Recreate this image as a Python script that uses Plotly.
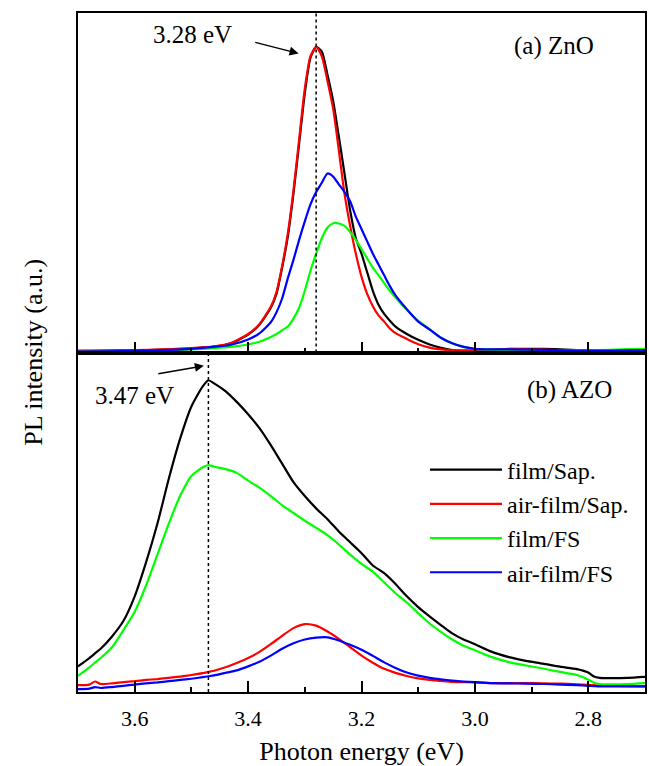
import plotly.graph_objects as go
from plotly.subplots import make_subplots

# ---------------- data (a) ZnO ----------------
energy_a = [3.70, 3.65, 3.60, 3.55, 3.50, 3.46, 3.43, 3.40, 3.38, 3.36, 3.35, 3.34, 3.33, 3.32,
            3.31, 3.30, 3.29, 3.28, 3.27, 3.26, 3.25, 3.24, 3.23, 3.22, 3.21, 3.20, 3.19, 3.18,
            3.17, 3.16, 3.15, 3.14, 3.12, 3.10, 3.08, 3.06, 3.04, 3.02, 3.00, 2.97, 2.94, 2.90,
            2.86, 2.82, 2.78, 2.74, 2.70]
zno_film_sap = [0.004, 0.005, 0.006, 0.009, 0.013, 0.019, 0.030, 0.058, 0.090, 0.145, 0.190, 0.275,
                0.375, 0.515, 0.677, 0.840, 0.955, 0.990, 0.975, 0.900, 0.815, 0.700, 0.580, 0.460,
                0.370, 0.320, 0.260, 0.200, 0.155, 0.125, 0.103, 0.084, 0.060, 0.041, 0.026, 0.015,
                0.008, 0.006, 0.006, 0.008, 0.012, 0.012, 0.011, 0.008, 0.007, 0.008, 0.010]
zno_air_sap = [0.006, 0.007, 0.008, 0.010, 0.014, 0.020, 0.031, 0.060, 0.092, 0.148, 0.195, 0.280,
               0.385, 0.525, 0.690, 0.855, 0.960, 0.990, 0.960, 0.880, 0.790, 0.655, 0.515, 0.410,
               0.320, 0.246, 0.190, 0.150, 0.120, 0.100, 0.078, 0.063, 0.044, 0.027, 0.016, 0.010,
               0.007, 0.006, 0.007, 0.010, 0.011, 0.010, 0.008, 0.007, 0.007, 0.008, 0.009]
zno_film_fs = [0.002, 0.003, 0.004, 0.006, 0.010, 0.014, 0.018, 0.026, 0.035, 0.050, 0.060, 0.072,
               0.084, 0.110, 0.145, 0.200, 0.265, 0.320, 0.370, 0.405, 0.419, 0.418, 0.410, 0.390,
               0.365, 0.335, 0.305, 0.275, 0.250, 0.225, 0.200, 0.178, 0.138, 0.103, 0.075, 0.048,
               0.030, 0.018, 0.012, 0.009, 0.008, 0.008, 0.007, 0.007, 0.008, 0.010, 0.012]
zno_air_fs = [0.003, 0.004, 0.005, 0.008, 0.012, 0.018, 0.025, 0.042, 0.062, 0.098, 0.130, 0.175,
              0.240, 0.300, 0.365, 0.425, 0.480, 0.520, 0.550, 0.580, 0.570, 0.545, 0.520, 0.490,
              0.440, 0.400, 0.360, 0.320, 0.285, 0.250, 0.215, 0.185, 0.140, 0.100, 0.075, 0.048,
              0.030, 0.018, 0.012, 0.010, 0.010, 0.009, 0.008, 0.006, 0.006, 0.007, 0.008]

# ---------------- data (b) AZO ----------------
energy_b = [3.70, 3.68, 3.67, 3.66, 3.64, 3.62, 3.60, 3.58, 3.56, 3.54, 3.52, 3.50, 3.48, 3.47,
            3.46, 3.44, 3.42, 3.40, 3.38, 3.36, 3.34, 3.32, 3.30, 3.28, 3.26, 3.24, 3.22, 3.20,
            3.18, 3.16, 3.14, 3.12, 3.10, 3.08, 3.06, 3.04, 3.02, 3.00, 2.97, 2.94, 2.91, 2.88,
            2.85, 2.82, 2.80, 2.79, 2.78, 2.76, 2.73, 2.70]
azo_film_sap = [0.083, 0.110, 0.125, 0.140, 0.180, 0.230, 0.310, 0.420, 0.545, 0.690, 0.820, 0.925,
                0.990, 1.010, 1.000, 0.975, 0.940, 0.900, 0.855, 0.800, 0.740, 0.680, 0.635, 0.595,
                0.560, 0.520, 0.485, 0.450, 0.410, 0.385, 0.350, 0.310, 0.275, 0.245, 0.217, 0.190,
                0.170, 0.155, 0.130, 0.113, 0.101, 0.092, 0.082, 0.074, 0.063, 0.050, 0.046, 0.045,
                0.046, 0.049]
azo_air_sap = [0.022, 0.024, 0.034, 0.026, 0.028, 0.032, 0.035, 0.039, 0.042, 0.046, 0.050, 0.055,
               0.061, 0.065, 0.069, 0.080, 0.094, 0.110, 0.130, 0.155, 0.182, 0.207, 0.220, 0.215,
               0.196, 0.172, 0.145, 0.118, 0.095, 0.075, 0.062, 0.052, 0.044, 0.039, 0.036, 0.033,
               0.032, 0.031, 0.029, 0.029, 0.029, 0.028, 0.027, 0.025, 0.023, 0.022, 0.021, 0.020,
               0.019, 0.018]
azo_film_fs = [0.052, 0.080, 0.095, 0.110, 0.145, 0.200, 0.260, 0.345, 0.445, 0.545, 0.635, 0.700,
               0.728, 0.735, 0.730, 0.722, 0.710, 0.685, 0.662, 0.635, 0.605, 0.580, 0.555, 0.532,
               0.508, 0.478, 0.445, 0.415, 0.390, 0.355, 0.320, 0.290, 0.255, 0.222, 0.195, 0.170,
               0.150, 0.135, 0.113, 0.097, 0.086, 0.076, 0.065, 0.055, 0.040, 0.030, 0.026, 0.025,
               0.026, 0.029]
azo_air_fs = [0.009, 0.011, 0.016, 0.013, 0.016, 0.020, 0.024, 0.028, 0.031, 0.035, 0.039, 0.043,
              0.048, 0.051, 0.054, 0.062, 0.070, 0.083, 0.098, 0.118, 0.140, 0.158, 0.170, 0.176,
              0.177, 0.167, 0.153, 0.137, 0.117, 0.096, 0.078, 0.063, 0.053, 0.046, 0.041, 0.037,
              0.034, 0.032, 0.029, 0.028, 0.027, 0.026, 0.024, 0.022, 0.020, 0.019, 0.018, 0.018,
              0.018, 0.018]

series_names = ["film/Sap.", "air-film/Sap.", "film/FS", "air-film/FS"]
series_colors = ["#000000", "#ff0000", "#00ff00", "#0000ff"]
panel_a = [zno_film_sap, zno_air_sap, zno_film_fs, zno_air_fs]
panel_b = [azo_film_sap, azo_air_sap, azo_film_fs, azo_air_fs]

peak_a = 3.28
peak_b = 3.47
x_ticks = [3.6, 3.4, 3.2, 3.0, 2.8]
x_tick_text = ["3.6", "3.4", "3.2", "3.0", "2.8"]

FONT = "Liberation Serif, Times New Roman, serif"

fig = make_subplots(rows=2, cols=1, shared_xaxes=True, vertical_spacing=0)

for i, (name, col) in enumerate(zip(series_names, series_colors)):
    fig.add_trace(go.Scatter(x=energy_a, y=panel_a[i], mode="lines", name=name,
                             line=dict(color=col, width=2.2, shape="spline", smoothing=0.6),
                             showlegend=False), row=1, col=1)
for i, (name, col) in enumerate(zip(series_names, series_colors)):
    fig.add_trace(go.Scatter(x=energy_b, y=panel_b[i], mode="lines", name=name,
                             line=dict(color=col, width=2.2, shape="spline", smoothing=0.6),
                             showlegend=True), row=2, col=1)

axis_common = dict(range=[3.7, 2.7], tickmode="array", tickvals=x_ticks, ticktext=x_tick_text,
                   ticks="inside", ticklen=11, tickwidth=1.5, tickcolor="black",
                   minor=dict(ticks="inside", ticklen=5, tickwidth=1.5, dtick=0.1, tick0=2.7,
                              tickcolor="black"),
                   showline=True, linewidth=2, linecolor="black", mirror=True,
                   showgrid=False, zeroline=False)
fig.update_xaxes(**axis_common, showticklabels=False, row=1, col=1)
fig.update_xaxes(**axis_common, showticklabels=True, row=2, col=1,
                 tickfont=dict(family=FONT, size=22, color="black"),
                 ticklabelstandoff=6,
                 title=dict(text="Photon energy (eV)", font=dict(family=FONT, size=26, color="black"),
                            standoff=12))
fig.update_yaxes(range=[0, 1.1], showticklabels=False, ticks="", showline=True, linewidth=2,
                 linecolor="black", mirror=True, showgrid=False, zeroline=False)

# dotted peak lines
fig.add_shape(type="line", xref="x", yref="y domain", x0=peak_a, x1=peak_a, y0=0, y1=1,
              line=dict(color="black", width=1.5, dash="dot"))
fig.add_shape(type="line", xref="x2", yref="y2 domain", x0=peak_b, x1=peak_b, y0=0, y1=1,
              line=dict(color="black", width=1.5, dash="dot"))

ann_font = dict(family=FONT, size=25, color="black")
fig.add_annotation(x=3.498, y=1.031, xref="x", yref="y", text="3.28 eV", showarrow=False, font=ann_font)
fig.add_annotation(x=3.311, y=0.969, xref="x", yref="y", ax=3.390, ay=1.006, axref="x", ayref="y",
                   text="", showarrow=True, arrowhead=2, arrowsize=1.2, arrowwidth=1.5, arrowcolor="black")
fig.add_annotation(x=2.861, y=0.993, xref="x", yref="y", text="(a) ZnO", showarrow=False, font=ann_font)

fig.add_annotation(x=3.600, y=0.962, xref="x2", yref="y2", text="3.47 eV", showarrow=False, font=ann_font)
fig.add_annotation(x=3.478, y=1.057, xref="x2", yref="y2", ax=3.561, ay=1.030, axref="x2", ayref="y2",
                   text="", showarrow=True, arrowhead=2, arrowsize=1.2, arrowwidth=1.5, arrowcolor="black")
fig.add_annotation(x=2.833, y=0.978, xref="x2", yref="y2", text="(b) AZO", showarrow=False, font=ann_font)

fig.add_annotation(x=-0.079, y=0.5, xref="paper", yref="paper", xanchor="center", yanchor="middle",
                   text="PL intensity (a.u.)", textangle=-90, showarrow=False,
                   font=dict(family=FONT, size=26, color="black"))

fig.update_layout(
    width=649, height=766,
    margin=dict(l=78, r=2, t=13, b=74),
    paper_bgcolor="white", plot_bgcolor="white",
    font=dict(family=FONT, color="black"),
    legend=dict(x=0.612, y=0.360, xanchor="left", yanchor="top", bgcolor="rgba(0,0,0,0)",
                borderwidth=0, font=dict(family=FONT, size=24, color="black"),
                itemwidth=72, tracegroupgap=0),
)

fig.write_html("out.html", config={"displayModeBar": False},
               post_script="document.body.style.margin='0';")
